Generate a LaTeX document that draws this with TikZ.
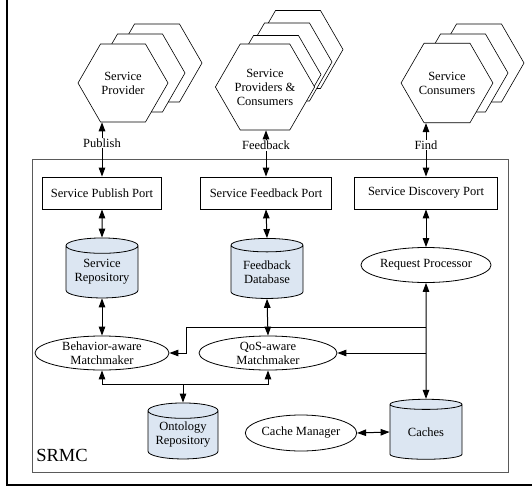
\documentclass[tikz,border=0pt]{standalone}
\usepackage{fontspec}
\setmainfont{Liberation Serif}
\usetikzlibrary{arrows.meta,positioning,shapes.geometric,calc}
\definecolor{cylblue}{HTML}{DCE6F2}
\definecolor{framegrey}{HTML}{5A5A5A}

\begin{document}
\begin{tikzpicture}[
  x=1pt, y=-1pt,
  font=\fontsize{12.5}{14}\selectfont,
  >={Triangle[length=9pt,width=6.5pt]},
  hexbox/.style={
    regular polygon,
    regular polygon sides=6,
    draw,
    fill=white,
    line width=0.6pt,
    minimum size=90pt,
    inner sep=0pt,
    align=center
  },
  portbox/.style={draw, line width=0.8pt, minimum height=32pt, inner sep=0pt},
  dbcyl/.style={
    cylinder,
    shape border rotate=90,
    aspect=0.28,
    draw,
    line width=0.8pt,
    fill=cylblue,
    minimum width=72pt,
    minimum height=60pt,
    inner sep=0pt,
    align=center
  },
  procell/.style={ellipse, draw, line width=0.8pt, inner sep=0pt, align=center},
  link/.style={line width=1pt, ->},
  twoway/.style={line width=1pt, <->},
  tag/.style={fill=white, inner sep=1pt}
]
  \useasboundingbox (0,0) rectangle (532,487);

  % Outer figure frame and SRMC boundary
  \draw[line width=2pt] (7,0) -- (7,485) -- (532,485);
  \draw[draw=framegrey, line width=1pt] (32,159) rectangle (508,472);
  \node[font=\fontsize{18.5}{20}\selectfont] (srmc) at (62,455) {SRMC};

  % Stacked hexagons (actors outside)
  \foreach \k in {2,1}
    \node[hexbox] (prov\k) at ({123+17*\k},{83-10*\k}) {};
  \node[hexbox] (prov) at (123,83) {Service\\Provider};

  \foreach \k in {3,2,1}
    \node[hexbox] (pc\k) at ({265+11*\k},{87-12.5*\k}) {};
  \node[hexbox] (pc) at (265,87) {Service\\Providers \&\\Consumers};

  \foreach \k in {2,1}
    \node[hexbox] (cons\k) at ({447+16*\k},{83-10*\k}) {};
  \node[hexbox] (cons) at (447,83) {Service\\Consumers};

  % Ports
  \node[portbox, minimum width=119pt] (pubport) at (102,193) {Service Publish Port};
  \node[portbox, minimum width=131pt] (fbport) at (266,193) {Service Feedback Port};
  \node[portbox, minimum width=143pt] (discport) at (426,193) {Service Discovery Port};

  % Stores and processors
  \node[dbcyl] (srep) at (102,272) {Service\\Repository};
  \node[dbcyl] (fdb) at (267,272) {Feedback\\Database};
  \node[procell, minimum width=128pt, minimum height=35pt] (reqp) at (426,265) {Request Processor};

  \node[procell, minimum width=134pt, minimum height=34pt] (beh) at (102,353) {Behavior-aware\\Matchmaker};
  \node[procell, minimum width=138pt, minimum height=34pt] (qos) at (268,353) {QoS-aware\\Matchmaker};

  \node[dbcyl, minimum height=56pt, minimum width=70pt] (ont) at (183,435) {Ontology\\Repository};
  \node[procell, minimum width=96pt, minimum height=36pt] (cman) at (301,433) {Cache Manager};
  \node[dbcyl] (caches) at (426,432) {Caches};

  % Publish / Feedback / Find
  \draw[twoway] (pubport.north |- prov.south) -- (pubport.north)
    node[tag, pos=0.38] (pubtag) {Publish};
  \draw[twoway] (fbport.north |- pc.south) -- (fbport.north)
    node[tag, pos=0.33] (fbtag) {Feedback};
  \draw[twoway] (discport.north |- cons.south) -- (discport.north)
    node[tag, pos=0.41] (findtag) {Find};

  % Inside SRMC
  \draw[twoway] (pubport.south) -- (srep.north);
  \draw[twoway] (fbport.south) -- (fdb.north);
  \draw[twoway] (discport.south) -- (reqp.north);
  \draw[twoway] (srep.south) -- (beh.north);
  \draw[twoway] (fdb.south) -- (qos.north);
  \draw[twoway] (reqp.south) -- (caches.north);
  \draw[twoway] (cman.east) -- (caches.west);

  \coordinate (bend) at (186,327);
  \draw[link] (reqp.south |- bend) -- (bend) |- (beh.east);
  \draw[link] (reqp.south |- qos.east) -- (qos.east);

  \coordinate (bus) at ($(ont.north)+(0,-18)$);
  \draw[link] (bus) -| (beh.south);
  \draw[link] (bus) -| (qos.south);
  \draw[link] (bus) -- (ont.north);
\end{tikzpicture}
\end{document}
